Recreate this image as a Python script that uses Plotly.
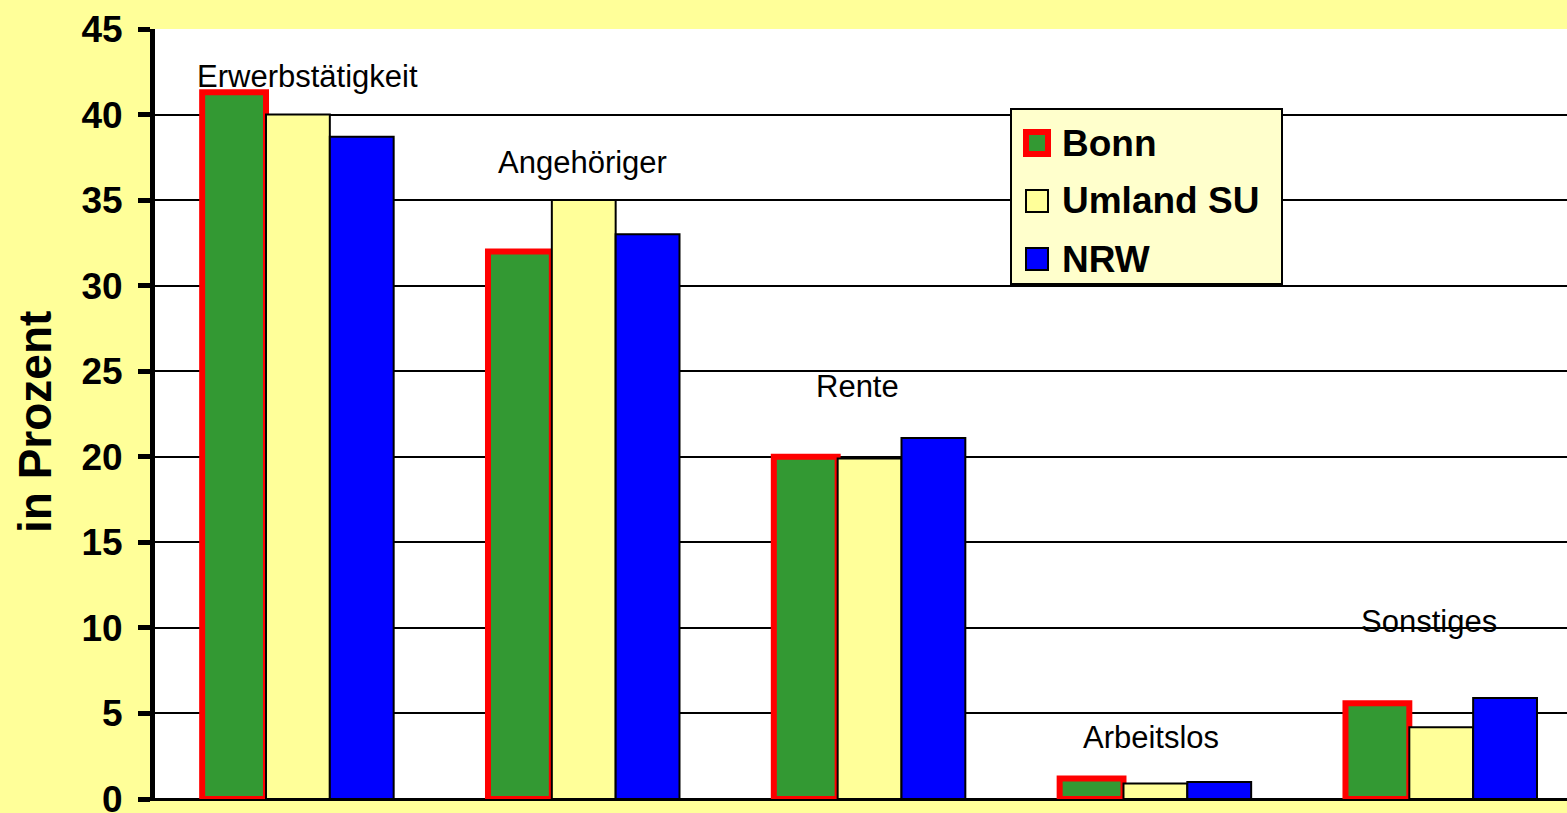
import plotly.graph_objects as go

categories = ["Erwerbstätigkeit", "Angehöriger", "Rente", "Arbeitslos", "Sonstiges"]
series_names = ["Bonn", "Umland SU", "NRW"]
bonn = [41.3, 32.0, 20.0, 1.2, 5.6]
umland = [40.0, 35.0, 19.9, 0.9, 4.2]
nrw = [38.7, 33.0, 21.1, 1.0, 5.9]
label_offsets = [0.9, 2.2, 3.0, 2.4, 4.5]
label_xshifts = [10, -1, -12, -4, -12]
y_ticks = [0, 5, 10, 15, 20, 25, 30, 35, 40, 45]

FONT = "Liberation Sans, Arial, sans-serif"
W, H = 1567, 813
ML, MR, MT, MB = 155, 0, 29, 14
fills = ["#339933", "#FFFF99", "#0000FF"]
borders = ["#FF0000", "#000000", "#000000"]
bwidths = [6, 2, 2]


def px(x):
    return (x - ML) / (W - ML - MR)


def py(y):
    return (H - MB - y) / (H - MT - MB)


fig = go.Figure()
for name, vals, f, b, bw in zip(series_names, [bonn, umland, nrw], fills, borders, bwidths):
    fig.add_trace(go.Bar(name=name, x=categories, y=vals, showlegend=False,
                         marker=dict(color=f, line=dict(color=b, width=bw))))

for i, c in enumerate(categories):
    top = max(bonn[i], umland[i], nrw[i])
    fig.add_annotation(x=c, y=top + label_offsets[i], text=c, showarrow=False,
                       xshift=label_xshifts[i], font=dict(family=FONT, size=31, color="black"))

# legend box (drawn manually to match the large square keys)
shapes = [dict(type="rect", xref="paper", yref="paper",
               x0=px(1011), x1=px(1282), y0=py(284), y1=py(109),
               fillcolor="#FFFFCC", line=dict(color="black", width=2), layer="above")]
key_rows = [143, 201, 259]
for k, (name, f, b) in enumerate(zip(series_names, fills, borders)):
    cy = key_rows[k]
    shapes.append(dict(type="rect", xref="paper", yref="paper",
                       x0=px(1026), x1=px(1048), y0=py(cy + 11), y1=py(cy - 11),
                       fillcolor=f, line=dict(color=b, width=6 if k == 0 else 2),
                       layer="above"))
    fig.add_annotation(xref="paper", yref="paper", x=px(1060), y=py(cy),
                       xanchor="left", yanchor="middle", text="<b>" + name + "</b>",
                       showarrow=False,
                       font=dict(family=FONT, size=37, color="black"))

# y-axis title
fig.add_annotation(xref="paper", yref="paper", x=px(35), y=py(422),
                   xanchor="center", yanchor="middle", textangle=-90,
                   text="<b>in Prozent</b>", showarrow=False,
                   font=dict(family=FONT, size=46, color="black"))

fig.update_layout(
    width=W, height=H,
    paper_bgcolor="#FFFF99", plot_bgcolor="#FFFFFF",
    margin=dict(l=ML, r=MR, t=MT, b=MB, autoexpand=False),
    barmode="group", bargap=0.33, bargroupgap=0,
    font=dict(family=FONT, color="black"),
    shapes=shapes,
)
fig.update_xaxes(showticklabels=False, showgrid=False, ticks="", automargin=False,
                 range=[-0.5, 4.44],
                 showline=True, linecolor="black", linewidth=2)
fig.update_yaxes(range=[0, 45], tickvals=y_ticks, showgrid=True, gridcolor="black",
                 gridwidth=1.5, zeroline=True, zerolinecolor="black", zerolinewidth=2,
                 showline=True, linecolor="black", linewidth=5, automargin=False,
                 ticks="outside", ticklen=12, tickwidth=5, tickcolor="black",
                 ticklabeloverflow="allow", ticklabelstandoff=8,
                 tickfont=dict(family=FONT, size=37, color="black", weight="bold"))

fig.write_html("out.html", config={"displayModeBar": False},
               post_script="document.body.style.margin='0px';document.body.style.background='#FFFF99';")
